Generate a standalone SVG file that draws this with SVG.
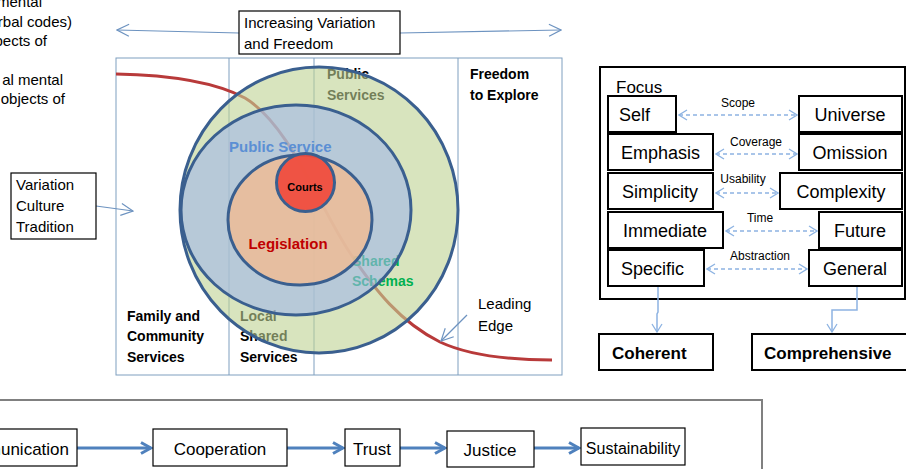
<svg xmlns="http://www.w3.org/2000/svg" width="906" height="469" viewBox="0 0 906 469">
<style>
text{font-family:"Liberation Sans",Arial,sans-serif;fill:#000}
.b{font-weight:bold}
.box{fill:#fff;stroke:#000;stroke-width:2}
.thin{fill:#fff;stroke:#000;stroke-width:1.2}
.frame{fill:none;stroke:#7f9fbf;stroke-width:1}
.ring{stroke:#3a5f8f;stroke-width:3}
.dash{fill:none;stroke:#8db3e2;stroke-width:1.3;stroke-dasharray:4,3}
.blue{fill:none;stroke:#6d93c0;stroke-width:1.2}
.thick{fill:none;stroke:#4f81bd;stroke-width:3}
</style>
<defs>
<marker id="oa" viewBox="0 0 14 14" refX="13" refY="7" markerWidth="14" markerHeight="14" markerUnits="userSpaceOnUse" orient="auto-start-reverse"><path d="M1,1 L13,7 L1,13" fill="none" stroke="#6d93c0" stroke-width="1.2"/></marker>
<marker id="da" viewBox="0 0 10 12" refX="9" refY="6" markerWidth="10" markerHeight="12" markerUnits="userSpaceOnUse" orient="auto-start-reverse"><path d="M1,1 L9,6 L1,11" fill="none" stroke="#8db3e2" stroke-width="1.3"/></marker>
<marker id="ta" viewBox="0 0 14 14" refX="12" refY="7" markerWidth="14" markerHeight="14" markerUnits="userSpaceOnUse" orient="auto"><path d="M2,1.5 L12,7 L2,12.5" fill="none" stroke="#4f81bd" stroke-width="3"/></marker>
</defs>

<g id="left-text" font-size="15">
<text x="42" y="7" text-anchor="end">mental</text>
<text x="72" y="27" text-anchor="end">(verbal codes)</text>
<text x="47" y="46" text-anchor="end">bects of</text>
<text x="63" y="85" text-anchor="end">al mental</text>
<text x="65" y="104" text-anchor="end">objects of</text>
</g>

<g id="main-frame">
<rect class="frame" x="116" y="58" width="446" height="317"/>
<line class="frame" x1="229" y1="58" x2="229" y2="375"/>
<line class="frame" x1="314" y1="58" x2="314" y2="375"/>
<line class="frame" x1="458" y1="58" x2="458" y2="375"/>
</g>

<g id="leading-edge-curve">
<path d="M116,74 C170,75 215,82 245,98 C290,125 318,205 350,253 C375,290 400,322 440,342 C470,356 510,360 552,360" fill="none" stroke="#b83a3a" stroke-width="3"/>
</g>

<g id="under-labels" class="b" font-size="14">
<text x="327" y="79">Public</text>
<text x="327" y="100">Services</text>
<text x="240" y="321">Local</text>
<text x="240" y="341">Shared</text>
</g>

<g id="circles">
<ellipse id="green-ring" cx="319" cy="210" rx="139" ry="143" fill="#bed293" fill-opacity="0.6" class="ring"/>
<g class="b" font-size="14">
<text x="352" y="266" style="fill:#00b050">Shared</text>
<text x="352" y="286" style="fill:#00b050">Schemas</text>
</g>
<ellipse id="blue-ring" cx="296" cy="210" rx="115" ry="105" fill="#a1b7e9" fill-opacity="0.6" class="ring"/>
<ellipse id="legislation" cx="300" cy="220" rx="72" ry="65" fill="#f1bb92" fill-opacity="0.8" class="ring"/>
<circle id="courts" cx="305.5" cy="182.5" r="29" fill="#f04a3c" fill-opacity="0.92" class="ring"/>
</g>

<g id="circle-labels" class="b">
<text x="229" y="152" font-size="15" style="fill:#5b8fd4">Public Service</text>
<text x="305" y="191" font-size="11" text-anchor="middle">Courts</text>
<text x="288" y="249" font-size="15" text-anchor="middle" style="fill:#c00000">Legislation</text>
</g>

<g id="col-labels" class="b" font-size="14">
<text x="470" y="79">Freedom</text>
<text x="470" y="100">to Explore</text>
<text x="127" y="321">Family and</text>
<text x="127" y="341">Community</text>
<text x="127" y="362">Services</text>
<text x="240" y="362">Services</text>
</g>

<g id="focus-panel">
<rect x="600" y="67" width="305" height="232" fill="#fff" stroke="#000" stroke-width="2"/>
<text x="616" y="93" font-size="17">Focus</text>
</g>

<g id="bottom-frame">
<path d="M0,400 L762,400 L762,469" fill="none" stroke="#808080" stroke-width="2"/>
</g>

<g id="connectors">
<line class="blue" x1="239" y1="33" x2="117" y2="30" marker-end="url(#oa)"/>
<line class="blue" x1="400" y1="33" x2="561" y2="30" marker-end="url(#oa)"/>
<line class="blue" x1="96" y1="206" x2="133" y2="211" marker-end="url(#oa)"/>
<line class="blue" x1="467" y1="315" x2="441" y2="341" marker-end="url(#oa)"/>
<line class="dash" x1="679" y1="115" x2="797" y2="115" marker-start="url(#da)" marker-end="url(#da)"/>
<line class="dash" x1="716" y1="154" x2="797" y2="154" marker-start="url(#da)" marker-end="url(#da)"/>
<line class="dash" x1="716" y1="193" x2="778" y2="193" marker-start="url(#da)" marker-end="url(#da)"/>
<line class="dash" x1="726" y1="231" x2="817" y2="231" marker-start="url(#da)" marker-end="url(#da)"/>
<line class="dash" x1="707" y1="269" x2="807" y2="269" marker-start="url(#da)" marker-end="url(#da)"/>
<path d="M658,287 L658,312 L657,314 L657,332" fill="none" stroke="#8db3e2" stroke-width="1.5" marker-end="url(#da)"/>
<path d="M857,287 L857,310 L832,310 L832,332" fill="none" stroke="#8db3e2" stroke-width="1.5" marker-end="url(#da)"/>
<line class="thick" x1="77" y1="448" x2="151" y2="448" marker-end="url(#ta)"/>
<line class="thick" x1="287" y1="448" x2="343" y2="448" marker-end="url(#ta)"/>
<line class="thick" x1="400" y1="448" x2="445" y2="448" marker-end="url(#ta)"/>
<line class="thick" x1="534" y1="448" x2="579" y2="448" marker-end="url(#ta)"/>
</g>

<g id="increasing-variation">
<rect class="thin" x="239" y="11" width="161" height="43"/>
<text x="244" y="28" font-size="15">Increasing Variation</text>
<text x="244" y="49" font-size="15">and Freedom</text>
</g>

<g id="variation-box">
<rect class="thin" x="11" y="173" width="85" height="66"/>
<text x="16" y="190" font-size="15">Variation</text>
<text x="16" y="211" font-size="15">Culture</text>
<text x="16" y="232" font-size="15">Tradition</text>
</g>

<g id="leading-edge-label" font-size="15">
<text x="478" y="309">Leading</text>
<text x="478" y="331">Edge</text>
</g>

<g id="focus-labels" font-size="12" text-anchor="middle">
<text x="738" y="107">Scope</text>
<text x="756" y="146">Coverage</text>
<text x="743" y="183">Usability</text>
<text x="760" y="222">Time</text>
<text x="760" y="260">Abstraction</text>
</g>

<g id="self"><rect class="box" x="608" y="96" width="68" height="36"/><text x="619" y="121" font-size="18">Self</text></g>
<g id="universe"><rect class="box" x="799" y="96" width="103" height="36"/><text x="850" y="121" font-size="18" text-anchor="middle">Universe</text></g>
<g id="emphasis"><rect class="box" x="608" y="134" width="105" height="36"/><text x="621" y="159" font-size="18">Emphasis</text></g>
<g id="omission"><rect class="box" x="799" y="134" width="103" height="36"/><text x="850" y="159" font-size="18" text-anchor="middle">Omission</text></g>
<g id="simplicity"><rect class="box" x="608" y="173" width="105" height="36"/><text x="660" y="198" font-size="18" text-anchor="middle">Simplicity</text></g>
<g id="complexity"><rect class="box" x="780" y="173" width="122" height="36"/><text x="841" y="198" font-size="18" text-anchor="middle">Complexity</text></g>
<g id="immediate"><rect class="box" x="608" y="212" width="115" height="36"/><text x="665" y="237" font-size="18" text-anchor="middle">Immediate</text></g>
<g id="future"><rect class="box" x="819" y="212" width="83" height="36"/><text x="860" y="237" font-size="18" text-anchor="middle">Future</text></g>
<g id="specific"><rect class="box" x="608" y="250" width="96" height="36"/><text x="621" y="275" font-size="18">Specific</text></g>
<g id="general"><rect class="box" x="809" y="250" width="93" height="36"/><text x="855" y="275" font-size="18" text-anchor="middle">General</text></g>

<g id="coherent"><rect class="box" x="599" y="334" width="114" height="36"/><text x="612" y="359" font-size="17" class="b">Coherent</text></g>
<g id="comprehensive"><rect class="box" x="752" y="334" width="160" height="36"/><text x="764" y="359" font-size="17" class="b">Comprehensive</text></g>

<g id="communication"><rect class="thin" x="-60" y="429" width="137" height="37"/><text x="69" y="455" font-size="17" text-anchor="end">Communication</text></g>
<g id="cooperation"><rect class="thin" x="153" y="429" width="134" height="37"/><text x="220" y="455" font-size="17" text-anchor="middle">Cooperation</text></g>
<g id="trust"><rect class="thin" x="345" y="429" width="55" height="37"/><text x="372" y="455" font-size="17" text-anchor="middle">Trust</text></g>
<g id="justice"><rect class="thin" x="447" y="431" width="87" height="36"/><text x="490" y="456" font-size="17" text-anchor="middle">Justice</text></g>
<g id="sustainability"><rect class="thin" x="581" y="428" width="104" height="37"/><text x="633" y="454" font-size="16" text-anchor="middle">Sustainability</text></g>
</svg>
